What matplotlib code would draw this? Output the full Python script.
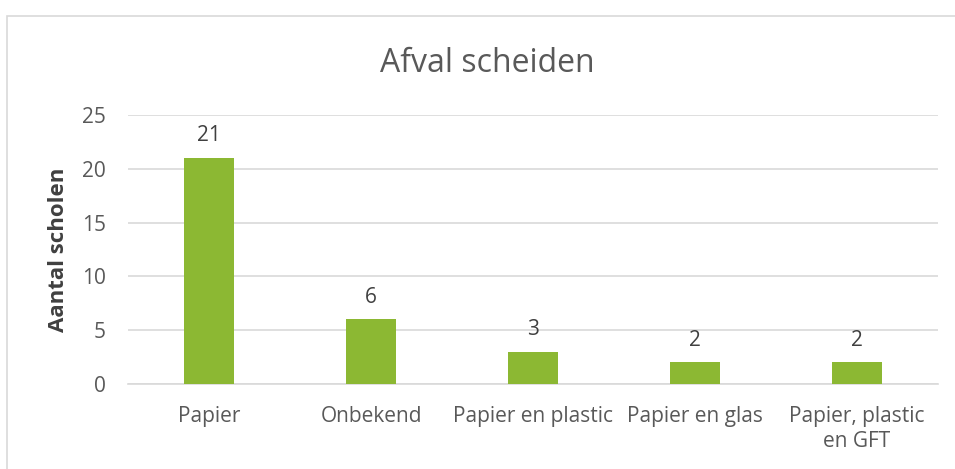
import matplotlib.pyplot as plt
from matplotlib.patches import Rectangle

categories = ['Papier', 'Onbekend', 'Papier en plastic', 'Papier en glas', 'Papier, plastic\nen GFT']
counts = [21, 6, 3, 2, 2]
yticks = [0, 5, 10, 15, 20, 25]

plt.rcParams['font.family'] = ['Open Sans', 'DejaVu Sans']
textcol = '#595959'

fig = plt.figure(figsize=(9.55, 4.69), dpi=100)
# chart border (Excel style), cropped at right/bottom
fig.patches.append(Rectangle((7 / 955, -0.05), 1.2, 1 - 16 / 469 + 0.05,
                             transform=fig.transFigure, fill=False,
                             edgecolor='#d9d9d9', linewidth=1.2))

ax = fig.add_axes([128 / 955, 1 - 384 / 469, 810 / 955, (384 - 115) / 469])
x = range(len(categories))
bars = ax.bar(x, counts, width=0.31, color='#8cb833', zorder=3)
for b, v in zip(bars, counts):
    ax.text(b.get_x() + b.get_width() / 2, v + 1.1, str(v), ha='center', va='bottom',
            fontsize=15, color='#404040')

ax.set_xlim(-0.5, len(categories) - 0.5)
ax.set_ylim(0, 25)
ax.set_yticks(yticks)
ax.set_xticks(list(x))
ax.set_xticklabels(categories, fontsize=15, color=textcol, linespacing=1.25)
ax.tick_params(axis='y', labelsize=15, labelcolor=textcol, length=0, pad=16)
ax.tick_params(axis='x', length=0, pad=16)
ax.grid(axis='y', color='#d9d9d9', linewidth=1.2, zorder=0)
for s in ['top', 'right', 'left']:
    ax.spines[s].set_visible(False)
ax.spines['bottom'].set_color('#d9d9d9')
ax.spines['bottom'].set_linewidth(1.2)

fig.text(58 / 955, 1 - 250 / 469, 'Aantal scholen', rotation=90, ha='center', va='center',
         fontsize=16, fontweight='bold', color='#404040')
fig.text(487 / 955, 1 - 63 / 469, 'Afval scheiden', ha='center', va='center',
         fontsize=23, color=textcol)

fig.savefig('out.png', dpi=100)
